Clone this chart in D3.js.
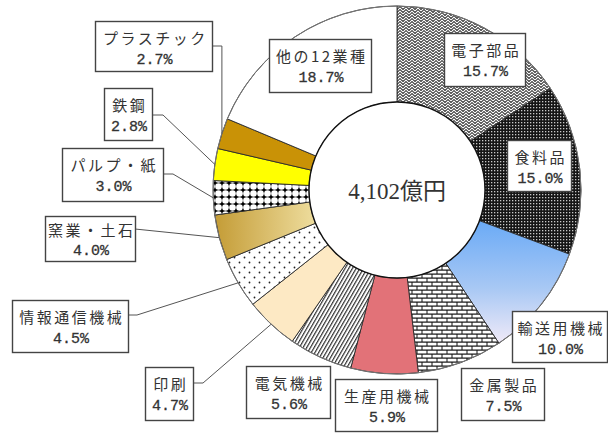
<!DOCTYPE html>
<html>
<head>
<meta charset="utf-8">
<script src="https://cdn.jsdelivr.net/npm/d3@7"></script>
<style>
  body { margin: 0; background: #fff; }
  svg { display: block; }
</style>
</head>
<body>
<div id="chart"></div>
<script>
// data, clockwise from 12 o'clock
var categories = ["電子部品", "食料品", "輸送用機械", "金属製品", "生産用機械", "電気機械", "印刷",
    "情報通信機械", "窯業・土石", "パルプ・紙", "鉄鋼", "プラスチック", "他の12業種"];
var shares = [15.7, 15.0, 10.0, 7.5, 5.9, 5.6, 4.7, 4.5, 4.0, 3.0, 2.8, 2.7, 18.7];
var totalLabel = "4,102億円";

// label box layout [x, y, w, h] and leader lines (attach y, elbow offset)
var boxes = [[444, 33, 81, 53], [507, 140, 64, 51], [512, 311, 95, 51], [461, 368, 83, 52],
    [335, 379, 102, 52], [246, 366, 84, 52], [145, 367, 48, 53], [12, 300, 116, 52],
    [45, 216, 90, 45], [62, 148, 101, 53], [104, 88, 48, 52], [95, 21, 117, 50], [269, 39, 102, 53]];
var leaders = [null, null, null, null, null, null,
    { y: 383, dx: 10 }, { y: 315, dx: 9 }, { y: 229, dx: 0 }, { y: 174, dx: 10 },
    { y: 115, dx: 11 }, { y: 46, vertical: true }, null];

var width = 608, height = 433,
    cx = 397, cy = 190,
    outerRadius = 184, innerRadius = 88;

var svg = d3.select("#chart").append("svg")
    .attr("width", width)
    .attr("height", height);

var defs = svg.append("defs");

// herringbone-ish (電子部品)
var p1 = defs.append("pattern").attr("id", "pZig").attr("patternUnits", "userSpaceOnUse")
    .attr("width", 6).attr("height", 6);
p1.append("rect").attr("width", 6).attr("height", 6).attr("fill", "#2e2e2e");
p1.append("path").attr("d", "M0,4 L3,1 L6,4 M0,7 L3,4 L6,7 M0,1 L3,-2 L6,1")
    .attr("stroke", "#fff").attr("stroke-width", 1.1).attr("fill", "none");

// dark small grid (食料品)
var p2 = defs.append("pattern").attr("id", "pGrid").attr("patternUnits", "userSpaceOnUse")
    .attr("width", 3).attr("height", 3);
p2.append("rect").attr("width", 3).attr("height", 3).attr("fill", "#151515");
p2.append("rect").attr("x", 1).attr("y", 1).attr("width", 1.3).attr("height", 1.3).attr("fill", "#c8c8c8");

// gradient (輸送用機械)
var g1 = defs.append("linearGradient").attr("id", "gBlue")
    .attr("x1", 0).attr("y1", 0).attr("x2", 0).attr("y2", 1);
g1.append("stop").attr("offset", "0%").attr("stop-color", "#6aaaf6");
g1.append("stop").attr("offset", "55%").attr("stop-color", "#a8c8f4");
g1.append("stop").attr("offset", "100%").attr("stop-color", "#f0eaf8");

// brick (金属製品)
var p3 = defs.append("pattern").attr("id", "pBrick").attr("patternUnits", "userSpaceOnUse")
    .attr("width", 10).attr("height", 8);
p3.append("rect").attr("width", 10).attr("height", 8).attr("fill", "#111");
p3.append("rect").attr("x", 0.5).attr("y", 0.7).attr("width", 9).attr("height", 2.8).attr("fill", "#fff");
p3.append("rect").attr("x", 5.5).attr("y", 4.7).attr("width", 9).attr("height", 2.8).attr("fill", "#fff");
p3.append("rect").attr("x", -4.5).attr("y", 4.7).attr("width", 9).attr("height", 2.8).attr("fill", "#fff");

// diagonal stripes (電気機械)
var p4 = defs.append("pattern").attr("id", "pDiag").attr("patternUnits", "userSpaceOnUse")
    .attr("width", 3.2).attr("height", 3.2).attr("patternTransform", "rotate(30)");
p4.append("rect").attr("width", 3.2).attr("height", 3.2).attr("fill", "#fff");
p4.append("rect").attr("width", 1.2).attr("height", 3.2).attr("fill", "#333");

// sparse dots (情報通信機械)
var p5 = defs.append("pattern").attr("id", "pDots").attr("patternUnits", "userSpaceOnUse")
    .attr("width", 10).attr("height", 10);
p5.append("rect").attr("width", 10).attr("height", 10).attr("fill", "#fff");
p5.append("circle").attr("cx", 2.5).attr("cy", 2.5).attr("r", 0.9).attr("fill", "#222");
p5.append("circle").attr("cx", 7.5).attr("cy", 7.5).attr("r", 0.9).attr("fill", "#222");

// gold gradient (窯業・土石)
var g2 = defs.append("linearGradient").attr("id", "gGold")
    .attr("x1", 0).attr("y1", 0).attr("x2", 1).attr("y2", 0);
g2.append("stop").attr("offset", "0%").attr("stop-color", "#c49c36");
g2.append("stop").attr("offset", "100%").attr("stop-color", "#eedd9e");

// circles on black (パルプ・紙)
var p6 = defs.append("pattern").attr("id", "pCirc").attr("patternUnits", "userSpaceOnUse")
    .attr("width", 7).attr("height", 7);
p6.append("rect").attr("width", 7).attr("height", 7).attr("fill", "#000");
p6.append("circle").attr("cx", 3.5).attr("cy", 3.5).attr("r", 3.3).attr("fill", "#fff");

var fills = ["url(#pZig)", "url(#pGrid)", "url(#gBlue)", "url(#pBrick)", "#e27278", "url(#pDiag)",
    "#fde9c4", "url(#pDots)", "url(#gGold)", "url(#pCirc)", "#ffff00", "#c99206", "#ffffff"];

var data = categories.map(function (c, i) { return { name: c, value: shares[i], i: i }; });

var pie = d3.pie().sort(null).value(function (d) { return d.value; });
var arcs = pie(data);

var arc = d3.arc().innerRadius(innerRadius).outerRadius(outerRadius);

var g = svg.append("g").attr("transform", "translate(" + cx + "," + cy + ")");

g.selectAll("path.slice")
    .data(arcs)
    .enter()
    .append("path")
    .attr("class", "slice")
    .attr("d", arc)
    .attr("fill", function (d) { return fills[d.index]; })
    .attr("stroke", "#2a2a2a")
    .attr("stroke-width", 0.9);

// outer rim
g.append("circle").attr("r", outerRadius).attr("fill", "none")
    .attr("stroke", "#777").attr("stroke-width", 1);

// center hole
g.append("circle").attr("r", innerRadius).attr("fill", "#fff")
    .attr("stroke", "#111").attr("stroke-width", 1.4);

g.append("text")
    .attr("text-anchor", "middle")
    .attr("y", 9)
    .style("font-family", "'Liberation Serif', 'Noto Sans CJK JP', serif")
    .style("font-size", "23px")
    .attr("fill", "#333")
    .text(totalLabel);

// leader lines
function edgePoint(d) {
    var a = (d.startAngle + d.endAngle) / 2;
    return [cx + outerRadius * Math.sin(a), cy - outerRadius * Math.cos(a)];
}

svg.append("g")
    .selectAll("path")
    .data(arcs.filter(function (d) { return leaders[d.index]; }))
    .enter()
    .append("path")
    .attr("fill", "none")
    .attr("stroke", "#555")
    .attr("stroke-width", 1)
    .attr("d", function (d) {
        var L = leaders[d.index], b = boxes[d.index], e = edgePoint(d);
        var x0 = b[0] + b[2];
        var ex = L.vertical ? e[0] : x0 + L.dx;
        return "M" + x0 + "," + L.y + "L" + ex + "," + L.y + "L" + e[0] + "," + e[1];
    });

// label boxes
var labels = svg.append("g")
    .selectAll("g")
    .data(data)
    .enter()
    .append("g")
    .attr("transform", function (d) { return "translate(" + boxes[d.i][0] + "," + boxes[d.i][1] + ")"; });

labels.append("rect")
    .attr("x", 0.5).attr("y", 0.5)
    .attr("width", function (d) { return boxes[d.i][2]; })
    .attr("height", function (d) { return boxes[d.i][3]; })
    .attr("fill", "#fff")
    .attr("stroke", "#444")
    .attr("stroke-width", 1.4);

labels.append("text")
    .attr("x", function (d) { return boxes[d.i][2] / 2 + 1.8; })
    .attr("y", function (d) { return boxes[d.i][3] < 50 ? 20 : 23; })
    .attr("text-anchor", "middle")
    .style("font-family", "'Noto Sans CJK JP', sans-serif")
    .style("font-size", "15px")
    .style("letter-spacing", "2.5px")
    .attr("fill", "#333")
    .text(function (d) { return d.name; });

labels.append("text")
    .attr("x", function (d) { return boxes[d.i][2] / 2 + 1; })
    .attr("y", function (d) { return boxes[d.i][3] < 50 ? 39 : 43; })
    .attr("text-anchor", "middle")
    .style("font-family", "'Liberation Mono', monospace")
    .style("font-size", "15px")
    .style("stroke", "#333")
    .style("stroke-width", "0.3px")
    .attr("fill", "#333")
    .text(function (d) { return d.value.toFixed(1) + "%"; });
</script>
</body>
</html>
